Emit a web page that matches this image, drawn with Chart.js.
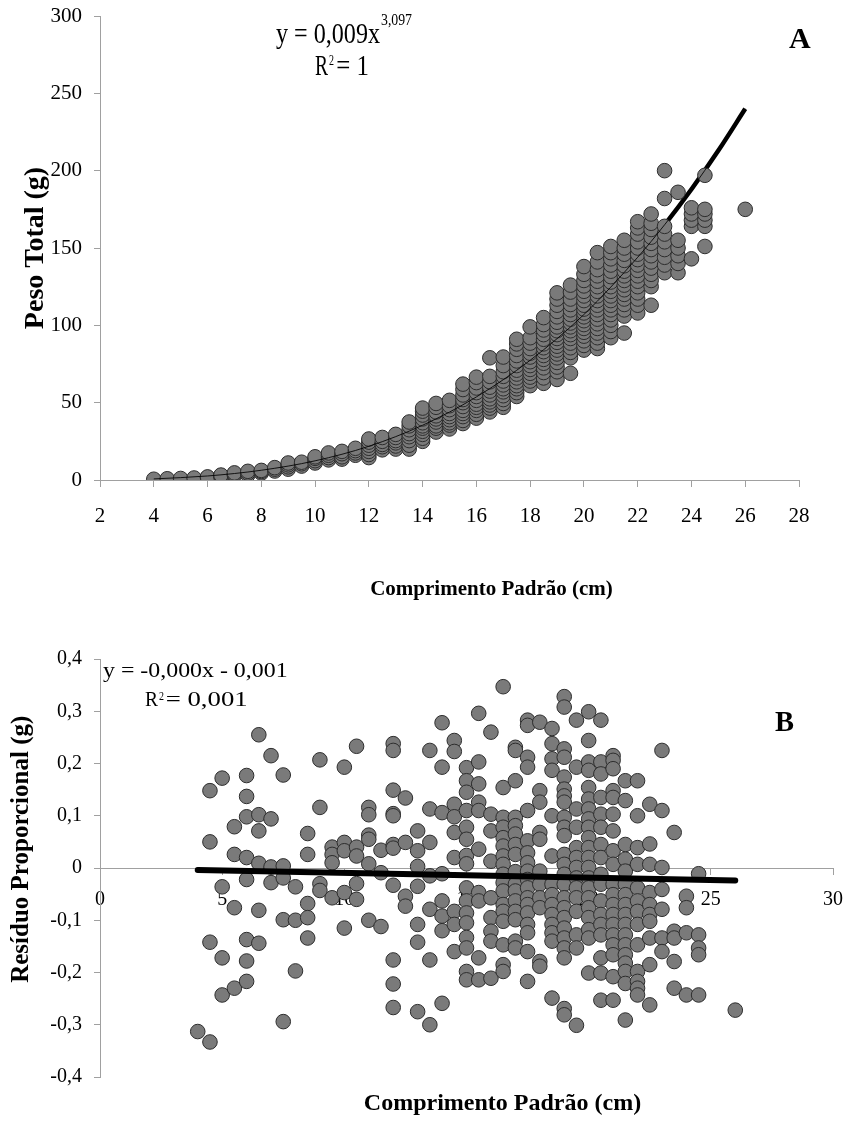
<!DOCTYPE html>
<html><head><meta charset="utf-8">
<script src="https://cdn.jsdelivr.net/npm/chart.js"></script>
<style>
html,body{margin:0;padding:0;background:#fff;}
#wrap{position:relative;width:857px;height:1124px;overflow:hidden;}
canvas{position:absolute;left:0;}
#cA{top:0;}
#cB{top:620px;}
</style></head><body>
<div id="wrap"><canvas id="cA" width="857" height="620"></canvas><canvas id="cB" width="857" height="504"></canvas></div>
<script>
// ---------- Chart A data: standard length (cm) vs total weight (g) ----------
const lengthA = [4,4.5,5,5.5,6,6.5,7,7.5,8,8.5,9,9.5,10,10.5,11,11.5,12,12.5,13,13.5,14,14.5,15,15.5,16,16.5,17,17.5,18,18.5,19,19.5,20,20.5,21,21.5,22,22.5,23,23.5,24,24.5,26];
const weightA = [
 [0.5],[0.8],[1.0],[1.3],[1.6,2.0],[2.2,2.8,3.2],[3.0,3.8,4.6],[3.2,4.5,5.6],[4.5,5.5,6.2],[5.8,7.0,8.0],
 [7.0,8.5,9.8,11.0],[9.0,10.5,11.5],[11.0,12.5,14.0,15.0],[13.0,14.5,16.0,17.5],[13.5,15.0,17.0,18.5],[16.0,17.5,19.0,20.5],
 [14.5,16.5,18.5,20.5,22.5,24.5,26.5],[19.5,21.5,23.0,25.0,27.5],[20.0,22.0,24.0,25.5,27.5,29.5],
 [20.0,22.5,25.5,28.0,30.0,32.5,35.0,37.5],[25.0,27.0,29.5,31.5,33.5,35.0,37.0,39.5,42.0,44.5,46.5],
 [31.0,33.5,35.0,37.5,39.5,41.5,44.0,47.0,49.5],[33.0,35.5,37.0,39.0,41.0,43.0,45.5,48.0,51.5],
 [36.5,38.5,41.0,43.0,45.0,47.5,50.0,52.0,55.0,58.5,62.0],[40.0,42.5,45.0,47.0,49.0,51.5,54.0,56.5,59.5,63.0,66.5],
 [44.0,46.5,48.5,50.5,52.5,55.0,57.5,60.0,63.5,67.0,79.0],[47.0,49.5,52.0,54.5,57.0,59.0,61.5,64.0,67.0,70.0,74.0,79.5],
 [54.0,56.5,59.0,61.0,63.5,66.0,68.5,71.0,74.0,77.0,80.5,84.5,88.0,91.0],
 [61.0,64.0,66.5,69.0,71.5,74.0,76.5,79.5,82.0,85.0,88.5,92.0,99.0],
 [62.5,66.0,69.5,72.5,75.5,78.0,80.5,83.0,85.5,88.0,91.0,94.0,97.0,100.5,105.0],
 [65.0,70.0,73.0,76.0,79.0,81.5,84.0,86.5,89.0,91.5,94.0,96.5,99.0,102.0,105.5,109.0,113.0,117.0,121.0],
 [69.0,79.0,82.5,85.5,88.5,91.5,94.0,96.5,99.0,101.5,104.0,107.0,110.0,113.5,117.0,121.5,126.0],
 [84.0,87.0,90.0,93.0,95.5,98.0,100.5,103.0,105.5,108.0,110.5,113.0,116.0,119.0,122.0,125.5,129.0,133.0,138.0],
 [85.0,88.5,92.0,95.0,98.0,101.0,104.0,107.0,110.0,113.0,116.0,119.0,122.0,125.0,128.5,132.0,136.0,141.0,147.0],
 [92.0,96.0,100.0,103.5,107.0,110.0,113.0,116.0,119.0,122.0,125.0,128.0,131.5,135.0,139.0,143.0,147.0,151.0],
 [95.0,106.0,110.0,113.5,117.0,120.0,123.0,126.0,129.0,132.0,135.0,138.5,142.0,146.0,150.0,155.0],
 [108.0,113.0,117.0,121.0,125.0,128.5,132.0,135.5,139.0,142.5,146.0,150.0,154.0,159.0,163.0,167.0],
 [113.0,125.0,129.0,133.0,137.0,141.0,145.0,149.0,153.0,157.0,162.0,166.0,172.0],
 [134.0,139.0,144.0,149.0,154.0,159.0,164.0,182.0,200.0],
 [134.0,140.0,145.0,150.0,155.0,186.0],
 [143.0,164.0,168.0,172.0,176.0],
 [151.0,164.0,168.0,172.0,175.0,197.0],
 [175.0]
];
const trendLenA = [4,6,8,10,12,14,16,18,20,22,23,24,25,26];
const trendWeightA = [0.7,2.6,6.3,12.4,21.8,35.4,53.7,77.4,107,144,165,188,213,240];
const xTicksA = [2,4,6,8,10,12,14,16,18,20,22,24,26,28];
const yTicksA = [0,50,100,150,200,250,300];

// ---------- Chart B data: standard length (cm) vs proportional residual ----------
const lengthB = [4,4.5,5,5.5,6,6.5,7,7.5,8,8.5,9,9.5,10,10.5,11,11.5,12,12.5,13,13.5,14,14.5,15,15.5,16,16.5,17,17.5,18,18.5,19,19.5,20,20.5,21,21.5,22,22.5,23,23.5,24,24.5,26];
const residB = [
 [-0.313],
 [0.148,0.05,-0.142,-0.333],
 [0.172,-0.036,-0.172,-0.243],
 [0.079,0.026,-0.076,-0.23],
 [0.177,0.137,0.098,0.02,-0.022,-0.137,-0.178,-0.217],
 [0.255,0.102,0.071,0.009,-0.081,-0.144],
 [0.215,0.094,0.002,-0.028],
 [0.178,0.004,-0.019,-0.099,-0.294],
 [-0.036,-0.1,-0.197],
 [0.066,0.026,-0.068,-0.095,-0.134],
 [0.207,0.116,-0.03,-0.043],
 [0.04,0.026,0.01,-0.057],
 [0.193,0.049,0.033,-0.047,-0.115],
 [0.233,0.04,0.023,-0.03,-0.06],
 [0.116,0.102,0.063,0.055,0.008,-0.1],
 [0.034,-0.009,-0.112],
 [0.238,0.225,0.149,0.104,0.1,0.045,0.038,-0.033,-0.176,-0.222,-0.267],
 [0.134,0.049,-0.054,-0.073],
 [0.071,0.033,0.003,-0.035,-0.108,-0.142,-0.275],
 [0.225,0.113,0.049,-0.015,-0.079,-0.176,-0.3],
 [0.278,0.193,0.106,-0.011,-0.063,-0.092,-0.12,-0.259],
 [0.244,0.223,0.122,0.098,0.068,0.02,-0.083,-0.108,-0.16],
 [0.192,0.167,0.145,0.11,0.078,0.055,0.024,0.008,-0.038,-0.063,-0.086,-0.105,-0.133,-0.153,-0.198,-0.214],
 [0.296,0.203,0.161,0.126,0.11,0.036,-0.047,-0.063,-0.172,-0.214],
 [0.26,0.103,0.071,0.013,-0.057,-0.095,-0.121,-0.14,-0.211],
 [0.347,0.154,0.097,0.078,0.058,0.042,0.023,0.007,-0.012,-0.028,-0.044,-0.07,-0.083,-0.102,-0.147,-0.185,-0.198],
 [0.231,0.225,0.167,0.097,0.081,0.065,0.045,0.026,-0.007,-0.031,-0.044,-0.063,-0.083,-0.099,-0.14,-0.153],
 [0.283,0.273,0.212,0.193,0.11,0.052,0.029,0.01,-0.006,-0.022,-0.038,-0.057,-0.07,-0.086,-0.108,-0.124,-0.16,-0.217],
 [0.279,0.148,0.126,0.068,0.055,-0.006,-0.031,-0.057,-0.076,-0.179,-0.188],
 [0.267,0.238,0.209,0.187,0.1,0.023,-0.031,-0.051,-0.07,-0.089,-0.108,-0.124,-0.14,-0.249],
 [0.328,0.308,0.228,0.212,0.174,0.151,0.138,0.126,0.097,0.078,0.062,0.026,0.007,-0.012,-0.031,-0.057,-0.076,-0.095,-0.115,-0.134,-0.153,-0.172,-0.269,-0.281],
 [0.283,0.193,0.113,0.078,0.039,0.02,0.001,-0.019,-0.038,-0.057,-0.083,-0.128,-0.153,-0.301],
 [0.299,0.244,0.203,0.187,0.154,0.132,0.113,0.094,0.078,0.058,0.039,0.02,0.001,-0.019,-0.038,-0.057,-0.076,-0.095,-0.118,-0.134,-0.201],
 [0.283,0.203,0.18,0.135,0.103,0.078,0.045,0.02,-0.012,-0.031,-0.063,-0.089,-0.108,-0.128,-0.172,-0.201,-0.253],
 [0.215,0.206,0.19,0.148,0.135,0.103,0.071,0.033,0.007,-0.031,-0.051,-0.07,-0.089,-0.108,-0.128,-0.147,-0.166,-0.208,-0.253],
 [0.167,0.129,0.045,0.017,-0.006,-0.031,-0.051,-0.07,-0.089,-0.108,-0.128,-0.147,-0.166,-0.182,-0.198,-0.221,-0.291],
 [0.167,0.1,0.039,0.007,-0.038,-0.063,-0.083,-0.108,-0.147,-0.198,-0.217,-0.23,-0.243],
 [0.122,0.046,0.007,-0.047,-0.07,-0.089,-0.102,-0.134,-0.185,-0.262],
 [0.225,0.11,0.001,-0.041,-0.079,-0.134,-0.16],
 [0.068,-0.121,-0.134,-0.179,-0.23],
 [-0.054,-0.076,-0.124,-0.243],
 [-0.011,-0.128,-0.153,-0.166,-0.243],
 [-0.272]
];
const trendLenB = [4,26];
const trendResidB = [-0.004,-0.024];
const xTicksB = [0,5,10,15,20,25,30];
const yTicksB = [-0.4,-0.3,-0.2,-0.1,0,0.1,0.2,0.3,0.4];

// ---------- helpers ----------
const SERIF = '"Liberation Serif","Times New Roman",serif';
const AXIS_GRAY = '#a0a0a0';
const PT_FILL = 'rgb(122,122,122)';
const PT_EDGE = 'rgb(45,45,45)';

function toPoints(xs, ys){
  const out = [];
  xs.forEach((x,i)=>ys[i].forEach(y=>out.push({x:x,y:y})));
  return out;
}
function toLine(xs, ys){ return xs.map((x,i)=>({x:x,y:ys[i]})); }

function fitText(ctx, text, left, right, baseline, font){
  ctx.save();
  ctx.font = font;
  ctx.textAlign = 'left';
  ctx.textBaseline = 'alphabetic';
  const m = ctx.measureText(text);
  const inkL = m.actualBoundingBoxLeft || 0;
  const inkW = (m.actualBoundingBoxRight || m.width) + inkL;
  const s = (right-left)/inkW;
  ctx.translate(left + inkL*s, baseline);
  ctx.scale(s,1);
  ctx.fillStyle = '#000';
  ctx.fillText(text, 0, 0);
  ctx.restore();
}
function fixedTicks(arr){ return function(scale){ scale.ticks = arr.map(v=>({value:v})); }; }

// ---------- Chart A ----------
const annotA = {
  id:'annotA',
  afterDraw(chart){
    const c = chart.ctx;
    fitText(c, 'y = 0,009x', 276, 380, 43, '30px '+SERIF);
    fitText(c, '3,097', 381, 412, 25, '16px '+SERIF);
    fitText(c, 'R', 315, 328, 75, '30px '+SERIF);
    fitText(c, '2', 329, 334, 65, '14px '+SERIF);
    fitText(c, '= 1', 337, 368, 75, '30px '+SERIF);
    fitText(c, 'A', 789, 811, 48, 'bold 30px '+SERIF);
  }
};

new Chart(document.getElementById('cA'), {
  type:'scatter',
  data:{ datasets:[
    { type:'line', data:toLine(trendLenA, trendWeightA), borderColor:'#000', borderWidth:4.5,
      pointRadius:0, fill:false, cubicInterpolationMode:'monotone', order:3 },
    { data:toPoints(lengthA, weightA), pointRadius:7.3, pointBackgroundColor:PT_FILL,
      pointBorderColor:PT_EDGE, pointBorderWidth:1, order:2 },
    { type:'line', data:toLine(trendLenA, trendWeightA), borderColor:'rgba(0,0,0,0.85)', borderWidth:1,
      pointRadius:0, fill:false, cubicInterpolationMode:'monotone', order:1 }
  ]},
  options:{
    responsive:false, animation:false, events:[],
    layout:{ padding:{top:16, right:58, bottom:0, left:0} },
    plugins:{ legend:{display:false}, tooltip:{enabled:false} },
    scales:{
      x:{ type:'linear', position:'bottom', min:2, max:28,
          afterBuildTicks:fixedTicks(xTicksA),
          afterFit(s){ s.height = 140; },
          grid:{ display:true, drawOnChartArea:false, drawTicks:true, tickLength:7, color:AXIS_GRAY },
          border:{ display:true, color:AXIS_GRAY, width:1 },
          ticks:{ color:'#000', font:{family:SERIF, size:21}, padding:17, maxRotation:0 },
          title:{ display:true, text:'                Comprimento Padrão (cm)', color:'#000',
                  font:{family:SERIF, size:21, weight:'bold'}, padding:{top:0,bottom:18} } },
      y:{ type:'linear', position:'left', min:0, max:300,
          afterBuildTicks:fixedTicks(yTicksA),
          afterFit(s){ s.width = 100; },
          grid:{ display:true, drawOnChartArea:false, drawTicks:true, tickLength:6, color:AXIS_GRAY },
          border:{ display:true, color:AXIS_GRAY, width:1 },
          ticks:{ color:'#000', font:{family:SERIF, size:21, lineHeight:0.3}, padding:12 },
          title:{ display:true, text:'Peso Total (g)', color:'#000',
                  font:{family:SERIF, size:28, weight:'bold'}, padding:{top:19,bottom:0} } }
    }
  },
  plugins:[annotA]
});

// ---------- Chart B ----------
const annotB = {
  id:'annotB',
  afterDraw(chart){
    const c = chart.ctx;
    fitText(c, 'y = -0,000x - 0,001', 103, 287, 57, '21px '+SERIF);
    fitText(c, 'R', 145, 158, 86, '21px '+SERIF);
    fitText(c, '2', 159, 164, 80, '12px '+SERIF);
    fitText(c, '= 0,001', 167, 247, 86, '21px '+SERIF);
    fitText(c, 'B', 775, 794, 111, 'bold 30px '+SERIF);
  }
};

function fmtB(v){
  const r = Math.round(v*10)/10;
  return r === 0 ? '0' : r.toFixed(1).replace('.', ',');
}

new Chart(document.getElementById('cB'), {
  type:'scatter',
  data:{ datasets:[
    { data:toPoints(lengthB, residB), pointRadius:7.3, pointBackgroundColor:PT_FILL,
      pointBorderColor:PT_EDGE, pointBorderWidth:1, order:2 },
    { type:'line', data:toLine(trendLenB, trendResidB), borderColor:'#000', borderWidth:6,
      borderCapStyle:'round', pointRadius:0, fill:false, order:1 }
  ]},
  options:{
    responsive:false, animation:false, events:[],
    layout:{ padding:{top:39, right:13, bottom:0, left:0} },
    plugins:{ legend:{display:false}, tooltip:{enabled:false} },
    scales:{
      x:{ type:'linear', position:{y:0}, min:0, max:30,
          afterBuildTicks:fixedTicks(xTicksB),
          grid:{ display:true, drawOnChartArea:false, drawTicks:true, tickLength:6, color:AXIS_GRAY },
          border:{ display:true, color:AXIS_GRAY, width:1 },
          ticks:{ color:'#000', font:{family:SERIF, size:20}, padding:14, maxRotation:0 },
          title:{ display:false } },
      xTitle:{ type:'linear', axis:'x', position:'bottom', min:0, max:30,
          afterFit(s){ s.height = 47; },
          grid:{ display:false }, border:{ display:false },
          ticks:{ display:false },
          title:{ display:true, text:'            Comprimento Padrão (cm)', color:'#000',
                  font:{family:SERIF, size:24, weight:'bold'}, padding:{top:0,bottom:6} } },
      y:{ type:'linear', position:'left', min:-0.4, max:0.4,
          afterBuildTicks:fixedTicks(yTicksB),
          afterFit(s){ s.width = 100; },
          grid:{ display:true, drawOnChartArea:false, drawTicks:true, tickLength:6, color:AXIS_GRAY },
          border:{ display:true, color:AXIS_GRAY, width:1 },
          ticks:{ color:'#000', font:{family:SERIF, size:20}, padding:12, callback:fmtB },
          title:{ display:true, text:'      Resíduo Proporcional (g)', color:'#000',
                  font:{family:SERIF, size:25, weight:'bold'}, padding:{top:7,bottom:0} } }
    }
  },
  plugins:[annotB]
});
</script>
</body></html>
